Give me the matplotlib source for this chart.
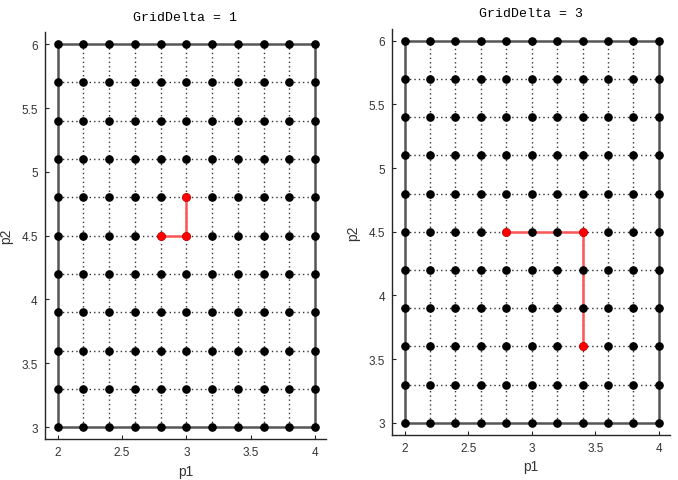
import numpy as np
import matplotlib.pyplot as plt

p1_vals = [2.0, 2.2, 2.4, 2.6, 2.8, 3.0, 3.2, 3.4, 3.6, 3.8, 4.0]
p2_vals = [3.0, 3.3, 3.6, 3.9, 4.2, 4.5, 4.8, 5.1, 5.4, 5.7, 6.0]
x_ticks = [2, 2.5, 3, 3.5, 4]
y_ticks = [3, 3.5, 4, 4.5, 5, 5.5, 6]
tick_labels_y = ['3', '3.5', '4', '4.5', '5', '5.5', '6']
tick_labels_x = ['2', '2.5', '3', '3.5', '4']

# poll paths (p1, p2)
path1_p1 = [2.8, 3.0, 3.0]
path1_p2 = [4.5, 4.5, 4.8]
path3_p1 = [2.8, 3.4, 3.4]
path3_p2 = [4.5, 4.5, 3.6]

plt.rcParams['font.family'] = ['Liberation Sans', 'DejaVu Sans']
fig = plt.figure(figsize=(6.78, 4.81), dpi=100)

axes_spec = [
    ([0.066, 0.085, 0.415, 0.846], 'GridDelta = 1', path1_p1, path1_p2),
    ([0.578, 0.094, 0.410, 0.844], 'GridDelta = 3', path3_p1, path3_p2),
]

axcol = '#262626'
for rect, title, px, py in axes_spec:
    ax = fig.add_axes(rect)
    P1, P2 = np.meshgrid(p1_vals, p2_vals)
    # interior dotted mesh
    for x in p1_vals[1:-1]:
        ax.plot([x, x], [p2_vals[0], p2_vals[-1]], ls=(0, (1, 2.2)), color='#333333', lw=1.0, zorder=1)
    for y in p2_vals[1:-1]:
        ax.plot([p1_vals[0], p1_vals[-1]], [y, y], ls=(0, (1, 2.2)), color='#333333', lw=1.0, zorder=1)
    # border
    bx = [p1_vals[0], p1_vals[-1], p1_vals[-1], p1_vals[0], p1_vals[0]]
    by = [p2_vals[0], p2_vals[0], p2_vals[-1], p2_vals[-1], p2_vals[0]]
    ax.plot(bx, by, color='#555555', lw=1.8, zorder=2)
    ax.plot(px, py, color='#ff5555', lw=1.8, zorder=3)
    ax.plot(P1.ravel(), P2.ravel(), 'o', color='black', ms=5.2, zorder=4)
    ax.plot(px[0], py[0], 'o', color='red', ms=5.2, zorder=5)
    ax.plot(px[1:], py[1:], 'o', color='red', ms=5.2, zorder=5)

    ax.set_xlim(1.9, 4.086)
    ax.set_ylim(2.906, 6.094)
    ax.set_xticks(x_ticks)
    ax.set_xticklabels(tick_labels_x)
    ax.set_yticks(y_ticks)
    ax.set_yticklabels(tick_labels_y)
    ax.spines['top'].set_visible(False)
    ax.spines['right'].set_visible(False)
    for s in ['left', 'bottom']:
        ax.spines[s].set_color(axcol)
        ax.spines[s].set_linewidth(1.0)
    ax.tick_params(direction='in', length=3, width=0.8, colors=axcol,
                   labelsize=8.5, pad=5, labelcolor='#333333')
    ax.set_xlabel('p1', fontsize=10, color='#333333', labelpad=4)
    ax.set_ylabel('p2', fontsize=10, color='#333333', labelpad=6)
    ax.set_title(title, family='Liberation Mono', fontsize=9.5, color='black', pad=9)

fig.savefig('out.png', dpi=100)
